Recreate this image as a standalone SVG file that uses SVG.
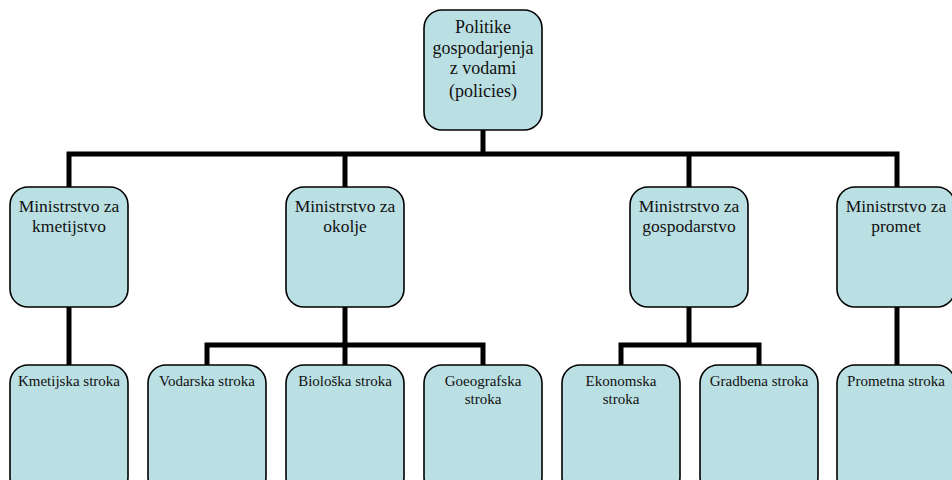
<svg xmlns="http://www.w3.org/2000/svg" width="952" height="480" viewBox="0 0 952 480">
  <style>
    .box { fill: #BBE0E3; stroke: #000; stroke-width: 1.6; }
    .wire { fill: none; stroke: #000; stroke-width: 5; stroke-linecap: butt; stroke-linejoin: miter; }
    .lbl { fill: #111; text-anchor: middle; }
    .t1 { font-size: 18px; }
    .t2 { font-size: 17.5px; }
    .t3 { font-size: 15px; }
  </style>
  <rect width="952" height="480" fill="#fff"/>

  <!-- connectors -->
  <g id="connectors">
    <path class="wire" d="M483 130 V154"/>
    <path class="wire" d="M69 187 V154 H897 V187"/>
    <path class="wire" d="M345 154 V187"/>
    <path class="wire" d="M689 154 V187"/>
    <path class="wire" d="M69 307 V365"/>
    <path class="wire" d="M345 307 V365"/>
    <path class="wire" d="M207 365 V345 H483 V365"/>
    <path class="wire" d="M689 307 V345"/>
    <path class="wire" d="M621 365 V345 H759 V365"/>
    <path class="wire" d="M897 307 V365"/>
  </g>

  <g font-family="Liberation Serif, Times New Roman, serif">
    <!-- root -->
    <g id="root">
      <rect class="box" x="424" y="10" width="118" height="120" rx="18"/>
      <text class="lbl t1" x="483" y="33">Politike</text>
      <text class="lbl t1" x="483" y="54">gospodarjenja</text>
      <text class="lbl t1" x="483" y="74">z vodami</text>
      <text class="lbl t1" x="483" y="97" font-size="21">(policies)</text>
    </g>

    <!-- ministries -->
    <g id="min-kmetijstvo">
      <rect class="box" x="10" y="187" width="118" height="120" rx="18"/>
      <text class="lbl t2" x="69" y="212">Ministrstvo za</text>
      <text class="lbl t2" x="69" y="232">kmetijstvo</text>
    </g>
    <g id="min-okolje">
      <rect class="box" x="286" y="187" width="118" height="120" rx="18"/>
      <text class="lbl t2" x="345" y="212">Ministrstvo za</text>
      <text class="lbl t2" x="345" y="232">okolje</text>
    </g>
    <g id="min-gospodarstvo">
      <rect class="box" x="630" y="187" width="118" height="120" rx="18"/>
      <text class="lbl t2" x="689" y="212">Ministrstvo za</text>
      <text class="lbl t2" x="689" y="232">gospodarstvo</text>
    </g>
    <g id="min-promet">
      <rect class="box" x="837" y="187" width="118" height="120" rx="18"/>
      <text class="lbl t2" x="896" y="212">Ministrstvo za</text>
      <text class="lbl t2" x="896" y="232">promet</text>
    </g>

    <!-- professions -->
    <g id="kmetijska">
      <rect class="box" x="10" y="365" width="118" height="130" rx="18"/>
      <text class="lbl t3" x="69" y="386">Kmetijska stroka</text>
    </g>
    <g id="vodarska">
      <rect class="box" x="148" y="365" width="118" height="130" rx="18"/>
      <text class="lbl t3" x="207" y="386">Vodarska stroka</text>
    </g>
    <g id="bioloska">
      <rect class="box" x="286" y="365" width="118" height="130" rx="18"/>
      <text class="lbl t3" x="345" y="386">Biološka stroka</text>
    </g>
    <g id="geografska">
      <rect class="box" x="424" y="365" width="118" height="130" rx="18"/>
      <text class="lbl t3" x="483" y="386">Goeografska</text>
      <text class="lbl t3" x="483" y="404">stroka</text>
    </g>
    <g id="ekonomska">
      <rect class="box" x="562" y="365" width="118" height="130" rx="18"/>
      <text class="lbl t3" x="621" y="386">Ekonomska</text>
      <text class="lbl t3" x="621" y="404">stroka</text>
    </g>
    <g id="gradbena">
      <rect class="box" x="700" y="365" width="118" height="130" rx="18"/>
      <text class="lbl t3" x="759" y="386">Gradbena stroka</text>
    </g>
    <g id="prometna">
      <rect class="box" x="837" y="365" width="118" height="130" rx="18"/>
      <text class="lbl t3" x="896" y="386">Prometna stroka</text>
    </g>
  </g>
</svg>
